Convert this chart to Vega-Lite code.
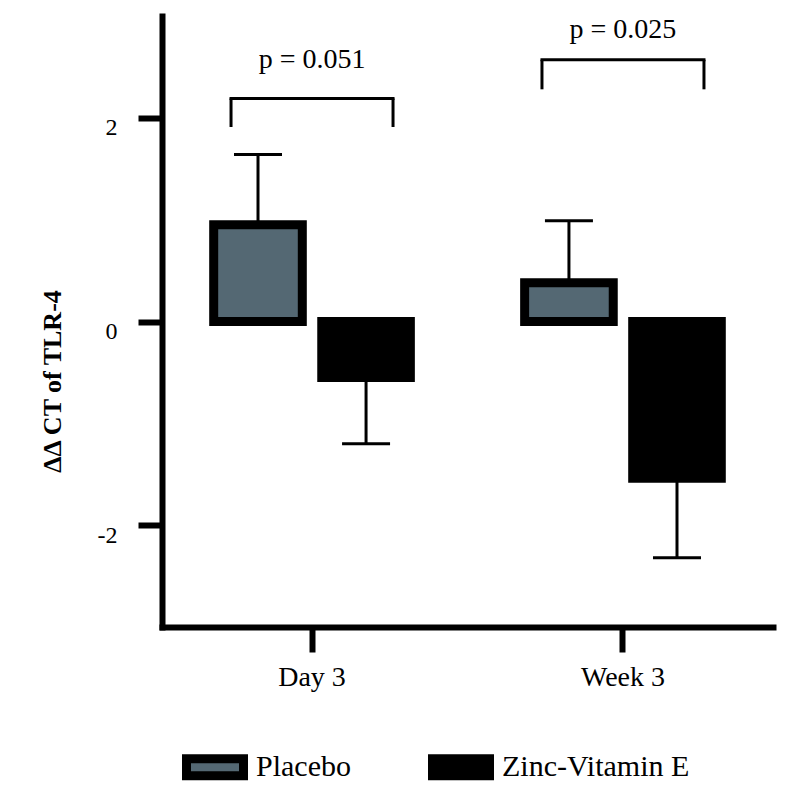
{
  "$schema": "https://vega.github.io/schema/vega-lite/v6.json",
  "width": 611,
  "height": 611,
  "autosize": {"type": "none"},
  "padding": {"left": 162, "top": 16, "right": 21, "bottom": 173},
  "config": {
    "view": {"stroke": null},
    "font": "Liberation Serif",
    "axis": {"labelColor": "black", "titleColor": "black", "grid": false}
  },
  "datasets": {
    "bars": [
      {"time": "Day 3", "group": "Placebo", "mean": 0.95, "err": 1.64},
      {"time": "Day 3", "group": "Zinc-Vitamin E", "mean": -0.55, "err": -1.2},
      {"time": "Week 3", "group": "Placebo", "mean": 0.38, "err": 0.99},
      {"time": "Week 3", "group": "Zinc-Vitamin E", "mean": -1.54, "err": -2.32}
    ],
    "sig": [
      {"time": "Day 3", "p": "p = 0.051", "bracket": 2.19, "leg": 1.91, "label": 2.49},
      {"time": "Week 3", "p": "p = 0.025", "bracket": 2.57, "leg": 2.28, "label": 2.78}
    ]
  },
  "encoding": {
    "x": {
      "field": "time",
      "type": "nominal",
      "sort": ["Day 3", "Week 3"],
      "scale": {"paddingInner": 0.305, "paddingOuter": 0.135},
      "axis": {
        "title": null,
        "labelAngle": 0,
        "domainColor": "black",
        "domainWidth": 6,
        "domainCap": "square",
        "tickColor": "black",
        "tickWidth": 6,
        "tickSize": 25,
        "labelFontSize": 28,
        "labelPadding": 11
      }
    },
    "y": {
      "type": "quantitative",
      "scale": {"domain": [-3, 3], "nice": false, "zero": false},
      "axis": {
        "title": "ΔΔ CT of TLR-4",
        "values": [-2, 0, 2],
        "labelExpr": "'' + datum.value",
        "domainColor": "black",
        "domainWidth": 6,
        "domainCap": "square",
        "tickColor": "black",
        "tickWidth": 6,
        "tickSize": 24,
        "labelFontSize": 24,
        "labelPadding": 21,
        "labelOffset": 10,
        "titleFontSize": 26,
        "titleFontWeight": "bold",
        "titleAngle": 270,
        "titleX": -110,
        "titleY": 365,
        "titleAlign": "center",
        "titleBaseline": "middle"
      }
    }
  },
  "layer": [
    {
      "data": {"name": "bars"},
      "mark": {"type": "rule", "color": "black", "strokeWidth": 3},
      "encoding": {
        "xOffset": {"field": "group", "scale": {"paddingInner": 0.18, "paddingOuter": 0.09}},
        "y": {"field": "mean"},
        "y2": {"field": "err"}
      }
    },
    {
      "data": {"name": "bars"},
      "mark": {"type": "tick", "orient": "horizontal", "color": "black", "size": 48, "thickness": 3, "opacity": 1},
      "encoding": {
        "xOffset": {"field": "group"},
        "y": {"field": "err"}
      }
    },
    {
      "data": {"name": "bars"},
      "mark": {"type": "bar", "stroke": "black", "strokeWidth": 9, "opacity": 1},
      "encoding": {
        "xOffset": {"field": "group"},
        "y": {"field": "mean"},
        "color": {
          "field": "group",
          "type": "nominal",
          "scale": {"domain": ["Placebo", "Zinc-Vitamin E"], "range": ["#546873", "black"]},
          "legend": {
            "title": null,
            "orient": "none",
            "direction": "horizontal",
            "legendX": 20,
            "legendY": 718,
            "symbolType": "M-1,-0.3h2v0.6h-2z",
            "symbolSize": 3249,
            "symbolStrokeColor": "black",
            "symbolStrokeWidth": 9,
            "symbolOpacity": 1,
            "labelFontSize": 30,
            "labelColor": "black",
            "labelOffset": 8,
            "labelLimit": 400,
            "columnPadding": 63
          }
        }
      }
    },
    {
      "data": {"name": "bars"},
      "mark": {"type": "rule", "color": "black", "strokeWidth": 6},
      "encoding": {"y": {"datum": 0}}
    },
    {
      "data": {"name": "sig"},
      "mark": {"type": "tick", "orient": "horizontal", "color": "black", "size": 165, "thickness": 3, "opacity": 1},
      "encoding": {"y": {"field": "bracket"}}
    },
    {
      "data": {"name": "sig"},
      "mark": {"type": "rule", "color": "black", "strokeWidth": 3, "xOffset": -81},
      "encoding": {"y": {"field": "bracket"}, "y2": {"field": "leg"}}
    },
    {
      "data": {"name": "sig"},
      "mark": {"type": "rule", "color": "black", "strokeWidth": 3, "xOffset": 81},
      "encoding": {"y": {"field": "bracket"}, "y2": {"field": "leg"}}
    },
    {
      "data": {"name": "sig"},
      "mark": {"type": "text", "fontSize": 28, "color": "black", "baseline": "alphabetic", "align": "center"},
      "encoding": {"y": {"field": "label"}, "text": {"field": "p"}}
    }
  ]
}
